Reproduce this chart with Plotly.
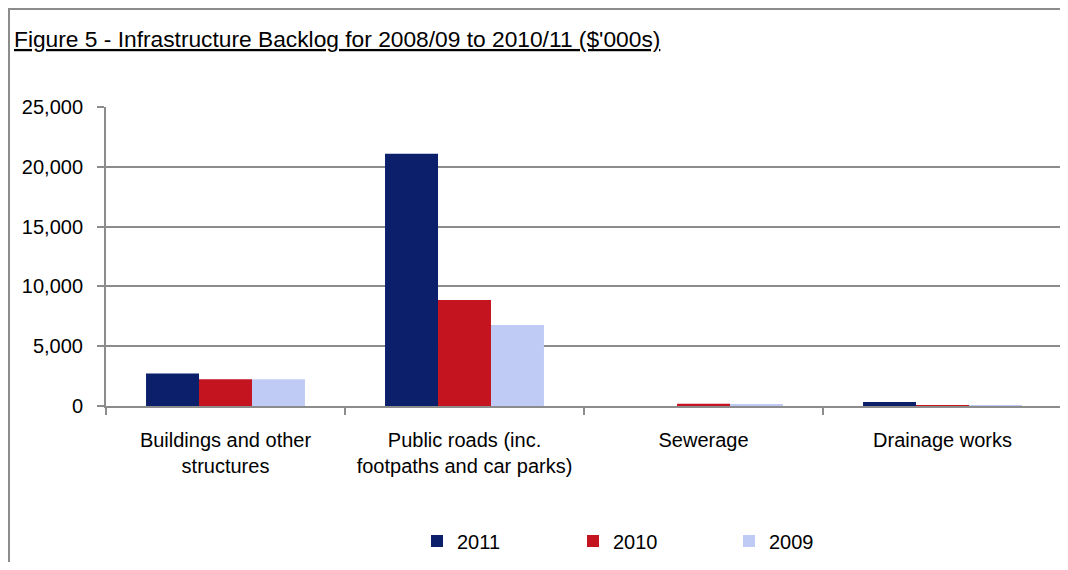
import plotly.graph_objects as go

categories = ["Buildings and other<br>structures",
              "Public roads (inc.<br>footpaths and car parks)",
              "Sewerage",
              "Drainage works"]
series_names = ["2011", "2010", "2009"]
values_2011 = [2720, 21100, 0, 340]
values_2010 = [2240, 8860, 190, 80]
values_2009 = [2240, 6780, 170, 20]
colors = ["#0B1F6B", "#C3141F", "#C0CBF5"]
y_ticks = [0, 5000, 10000, 15000, 20000, 25000]

OFF = 8  # page body margin offset
W, H = 1068 - OFF, 570 - 2 * OFF
# target page pixel positions -> figure pixel positions
L, R = 106 - OFF, 6
T = 107 - OFF
B = H - (406 - OFF)
pw, ph = W - L - R, H - T - B

def px2x(px):
    return (px - OFF - L) / pw

def px2y(py):
    return (H - B - (py - OFF)) / ph

FONT = "Liberation Sans, Arial, sans-serif"
GRID = "#8c8c8c"

fig = go.Figure()
for name, vals, col in zip(series_names, [values_2011, values_2010, values_2009], colors):
    fig.add_trace(go.Bar(name=name, x=categories, y=vals, marker_color=col,
                         marker_line_width=0))

fig.update_layout(
    width=W, height=H,
    margin=dict(l=L, r=R, t=T, b=B, pad=0, autoexpand=False),
    paper_bgcolor="white", plot_bgcolor="white",
    barmode="group", bargap=0.335, bargroupgap=0,
    font=dict(family=FONT, size=20, color="#000000"),
    title=dict(text="<u>Figure 5 - Infrastructure Backlog for 2008/09 to 2010/11 ($'000s)</u>",
               x=(14 - OFF) / W, xanchor="left", xref="container",
               y=1 - (39 - OFF) / H, yanchor="middle", yref="container",
               font=dict(family=FONT, size=22.75, color="#000000")),
    showlegend=True,
    legend=dict(orientation="h", x=px2x(417), xanchor="left",
                y=px2y(541), yanchor="middle",
                font=dict(family=FONT, size=20), entrywidth=111, entrywidthmode="pixels",
                itemwidth=30, traceorder="normal"),
    xaxis=dict(showline=True, linecolor=GRID, linewidth=2,
               ticks="outside", ticklen=7, tickwidth=2, tickcolor=GRID,
               tickson="boundaries", showgrid=False, zeroline=False,
               tickangle=0, automargin=False, ticklabelstandoff=15,
               tickfont=dict(family=FONT, size=20)),
    yaxis=dict(range=[0, 25000], tickvals=y_ticks, tickformat=",",
               showline=True, linecolor=GRID, linewidth=2,
               ticks="outside", ticklen=7, tickwidth=2, tickcolor=GRID,
               showgrid=True, gridcolor=GRID, gridwidth=2, zeroline=False,
               automargin=False,
               tickfont=dict(family=FONT, size=20), ticklabelstandoff=10),
    shapes=[
        dict(type="rect", xref="paper", yref="paper",
             x0=px2x(9), x1=px2x(1400), y0=px2y(9), y1=px2y(900),
             fillcolor="rgba(0,0,0,0)", line=dict(color=GRID, width=2),
             layer="below"),
    ],
)

fig.write_html("out.html")
